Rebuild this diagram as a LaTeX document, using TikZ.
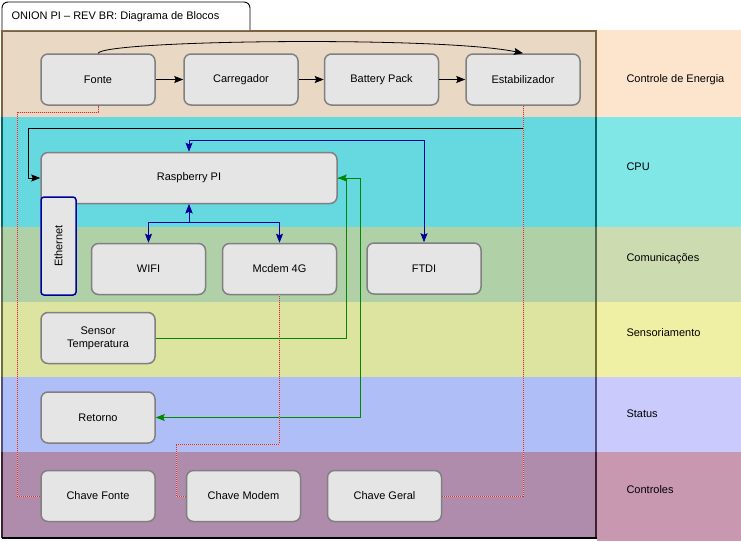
\documentclass[tikz,border=0pt]{standalone}
\usepackage{fontspec}
\setmainfont{Liberation Sans}
\usepackage{tikz}
\usetikzlibrary{arrows.meta}

\definecolor{enerL}{HTML}{E8D8C4}
\definecolor{enerR}{HTML}{FDE4CC}
\definecolor{enerD}{HTML}{7F6040}
\definecolor{cpuL}{HTML}{66D9E0}
\definecolor{cpuR}{HTML}{80E6E6}
\definecolor{cpuD}{HTML}{006666}
\definecolor{comL}{HTML}{B0D0A8}
\definecolor{comR}{HTML}{CCDCB0}
\definecolor{comD}{HTML}{5A6A4A}
\definecolor{senL}{HTML}{DCE4A0}
\definecolor{senR}{HTML}{F0F0A4}
\definecolor{senD}{HTML}{707030}
\definecolor{staL}{HTML}{B0BEF8}
\definecolor{staR}{HTML}{CACAFC}
\definecolor{staD}{HTML}{505080}
\definecolor{ctlL}{HTML}{B08CAC}
\definecolor{ctlR}{HTML}{C898B0}
\definecolor{ctlD}{HTML}{402030}
\definecolor{linkblue}{HTML}{000099}
\definecolor{linkgreen}{HTML}{008800}
\definecolor{linkred}{HTML}{CC3333}

\begin{document}
\begin{tikzpicture}[x=1pt, y=-1pt,
  every node/.style={font=\fontsize{11}{13}\selectfont},
  block/.style={draw=gray, line width=1.5pt, fill=gray!20, rounded corners=7pt,
    minimum width=114pt, minimum height=51pt, inner sep=0pt, align=center},
  lane/.style={anchor=west},
  flow/.style={-{Stealth[length=9pt,width=7pt,inset=1.5pt]}, line width=0.8pt, black},
  buslink/.style={{Stealth[length=9pt,width=7pt,inset=1.5pt]}-{Stealth[length=9pt,width=7pt,inset=1.5pt]}, line width=0.8pt, linkblue},
  sensorlink/.style={-{Stealth[length=9pt,width=7pt,inset=1.5pt]}, line width=0.8pt, linkgreen},
  switchlink/.style={draw=linkred!35!white, line width=1pt, postaction={draw=linkred, dash pattern=on 1pt off 1pt, line width=1pt}}]
\useasboundingbox (0,0) rectangle (741,541);

% lanes
\fill[enerL] (2,30) rectangle (597,117);
\fill[enerR] (597,30) rectangle (741,117);
\fill[cpuL] (2,117) rectangle (597,227);
\fill[cpuR] (597,117) rectangle (741,227);
\fill[comL] (2,227) rectangle (597,302);
\fill[comR] (597,227) rectangle (741,302);
\fill[senL] (2,302) rectangle (597,377);
\fill[senR] (597,302) rectangle (741,377);
\fill[staL] (2,377) rectangle (597,452);
\fill[staR] (597,377) rectangle (741,452);
\fill[ctlL] (2,452) rectangle (597,538);
\fill[ctlR] (597,452) rectangle (741,541);
% lane borders
\draw[enerD, line width=1.2pt] (2,117) -- (2,31) -- (596,31) -- (596,117);
\draw[cpuD, line width=1.2pt] (2,117) -- (2,227) (596,117) -- (596,227);
\draw[comD, line width=1.2pt] (2,227) -- (2,302) (596,227) -- (596,302);
\draw[senD, line width=1.2pt] (2,302) -- (2,377) (596,302) -- (596,377);
\draw[staD, line width=1.2pt] (2,377) -- (2,452) (596,377) -- (596,452);
\draw[ctlD, line width=1.2pt] (2,452) -- (2,538) (596,452) -- (596,538);
\draw[black, line width=1.5pt] (2,538) -- (597,538);

% title tab
\draw[fill=white, line width=0.9pt, rounded corners=6pt] (2,30) -- (2,2) -- (250,2) -- (250,30);
\node[anchor=west] (title) at (8,17) {ONION PI -- REV BR: Diagrama de Blocos};

% lane names
\node[lane] (lenergia) at (623,80) {Controle de Energia};
\node[lane] (lcpu) at (623,167) {CPU};
\node[lane] (lcom) at (623,259) {Comunicações};
\node[lane] (lsens) at (623,333) {Sensoriamento};
\node[lane] (lstatus) at (623,414) {Status};
\node[lane] (lcontrol) at (623,490) {Controles};

% energy
\node[block] (fonte) at (98,79.5) {Fonte};
\node[block] (carreg) at (241,79.5) {Carregador};
\node[block] (battery) at (381.5,79.5) {Battery Pack};
\node[block] (estab) at (523,79.5) {Estabilizador};
% cpu
\node[block, minimum width=296pt] (rpi) at (189,178) {Raspberry PI};
\node[draw=linkblue, line width=1.5pt, fill=gray!20, rounded corners=3pt, rotate=90,
  minimum width=98pt, minimum height=35pt, inner sep=0pt] (eth) at (58.5,246) {Ethernet};
% comms
\node[block] (wifi) at (148.5,269) {WIFI};
\node[block] (modem) at (279.5,269) {Mcdem 4G};
\node[block] (ftdi) at (424,268.5) {FTDI};
% sensors, status
\node[block] (sensor) at (98,338) {Sensor\\Temperatura};
\node[block] (retorno) at (98,417.5) {Retorno};
% switches
\node[block] (chfonte) at (98,496) {Chave Fonte};
\node[block] (chmodem) at (243.5,496) {Chave Modem};
\node[block] (chgeral) at (384.5,496) {Chave Geral};

% power chain
\draw[flow] (fonte) -- (carreg);
\draw[flow] (carreg) -- (battery);
\draw[flow] (battery) -- (estab);
\draw[flow] (fonte.north) .. controls (105,40) and (440,36) .. (estab.north);
\draw[flow] (estab.south) |- (28,128) |- (rpi.west);

% buses
\draw[buslink] (rpi.north) -- ++(0,-11) -| (ftdi.north);
\draw[buslink] (rpi.south) -- ++(0,18) -| (wifi.north);
\draw[buslink] (rpi.south) -- ++(0,18) -| (modem.north);

% sensor / status
\draw[sensorlink] (sensor.east) -| (346,178) -- (rpi.east);
\draw[sensorlink] (rpi.east) -- ++(23,0) |- (retorno.east);

% switches
\draw[switchlink] (chfonte.west) -| (17,112) -| (fonte.south);
\draw[switchlink] (chmodem.west) -| (176,444) -| (modem.south);
\draw[switchlink] (chgeral.east) -| (estab.south);
\end{tikzpicture}
\end{document}
